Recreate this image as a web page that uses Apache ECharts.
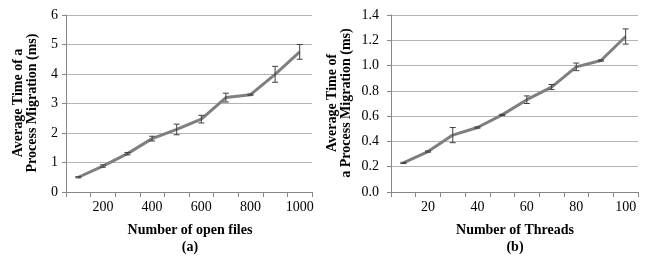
<!DOCTYPE html>
<html><head><meta charset="utf-8">
<script src="https://cdn.jsdelivr.net/npm/echarts@6/dist/echarts.min.js"></script>
<style>html,body{margin:0;padding:0;background:#fff}#c{width:652px;height:266px}</style>
</head><body><div id="c"></div>
<script>
var filesCats = ['100','200','300','400','500','600','700','800','900','1000'];
var filesTime = [0.50, 0.88, 1.30, 1.81, 2.12, 2.47, 3.20, 3.30, 3.99, 4.75];
var filesErr  = [0.02, 0.04, 0.04, 0.08, 0.18, 0.13, 0.15, 0.02, 0.27, 0.25];
var threadCats = ['10','20','30','40','50','60','70','80','90','100'];
var threadTime = [0.23, 0.32, 0.45, 0.51, 0.61, 0.73, 0.83, 0.99, 1.04, 1.23];
var threadErr  = [0.005, 0.005, 0.06, 0.005, 0.005, 0.03, 0.02, 0.03, 0.005, 0.06];
var yTicksA = [0,1,2,3,4,5,6];
var yTicksB = [0,0.2,0.4,0.6,0.8,1.0,1.2,1.4];

var FONT = 'Liberation Serif';
var chart = echarts.init(document.getElementById('c'));

function errData(vals, errs){
  return vals.map(function(v,i){ return [i, v-errs[i], v+errs[i]]; });
}
function errRender(params, api){
  var i = api.value(0);
  var lo = api.coord([i, api.value(1)]);
  var hi = api.coord([i, api.value(2)]);
  var w = 3;
  var st = {stroke:'#404040', lineWidth:1};
  return {type:'group', children:[
    {type:'line', shape:{x1:lo[0],y1:lo[1],x2:hi[0],y2:hi[1]}, style:st},
    {type:'line', shape:{x1:lo[0]-w,y1:lo[1],x2:lo[0]+w,y2:lo[1]}, style:st},
    {type:'line', shape:{x1:hi[0]-w,y1:hi[1],x2:hi[0]+w,y2:hi[1]}, style:st}
  ]};
}
function xAxis(idx, cats){
  return {type:'category', gridIndex:idx, data:cats, boundaryGap:true,
    axisLine:{lineStyle:{color:'#868686', width:1}},
    axisTick:{show:true, interval:0, length:5, lineStyle:{color:'#868686'}},
    axisLabel:{interval:function(i){return i%2===1;}, color:'#000', fontFamily:FONT, fontSize:14, margin:8},
    splitLine:{show:false}};
}
function yAxis(idx, max, step, dec, margin, ticks){
  return {type:'value', gridIndex:idx, min:ticks[0], max:ticks[ticks.length-1], interval:step,
    axisLine:{show:true, lineStyle:{color:'#868686'}},
    axisTick:{show:true, length:4, lineStyle:{color:'#868686'}},
    axisLabel:{color:'#000', fontFamily:FONT, fontSize:14, margin:margin,
      formatter:function(v){return v.toFixed(dec);}},
    splitLine:{show:true, lineStyle:{color:'#b3b3b3', width:1}}};
}
var titleStyle = {fill:'#000', font:'bold 14px "Liberation Serif"', textAlign:'center', textVerticalAlign:'middle'};
function txt(x,y,t,rot){
  var o = {type:'text', x:x, y:y, style:Object.assign({text:t}, titleStyle)};
  if(rot){ o.rotation = Math.PI/2; }
  return o;
}
chart.setOption({
  animation:false,
  grid:[
    {left:66, right:340, top:15, bottom:74},
    {left:391, right:14, top:15, bottom:74}
  ],
  xAxis:[xAxis(0, filesCats), xAxis(1, threadCats)],
  yAxis:[yAxis(0, 6, 1, 0, 8, yTicksA), yAxis(1, 1.4, 0.2, 1, 12, yTicksB)],
  series:[
    {type:'line', xAxisIndex:0, yAxisIndex:0, data:filesTime, symbol:'none',
      lineStyle:{color:'#7f7f7f', width:3}, z:2},
    {type:'custom', xAxisIndex:0, yAxisIndex:0, data:errData(filesTime, filesErr), renderItem:errRender, z:3},
    {type:'line', xAxisIndex:1, yAxisIndex:1, data:threadTime, symbol:'none',
      lineStyle:{color:'#7f7f7f', width:3}, z:2},
    {type:'custom', xAxisIndex:1, yAxisIndex:1, data:errData(threadTime, threadErr), renderItem:errRender, z:3}
  ],
  graphic:[
    txt(25, 103, 'Average Time of a\nProcess Migration (ms)', true),
    txt(339, 103, 'Average Time of\na Process Migration (ms)', true),
    txt(190, 230, 'Number of open files'),
    txt(190, 247, '(a)'),
    txt(515, 230, 'Number of Threads'),
    txt(515, 247, '(b)')
  ]
});
</script></body></html>
